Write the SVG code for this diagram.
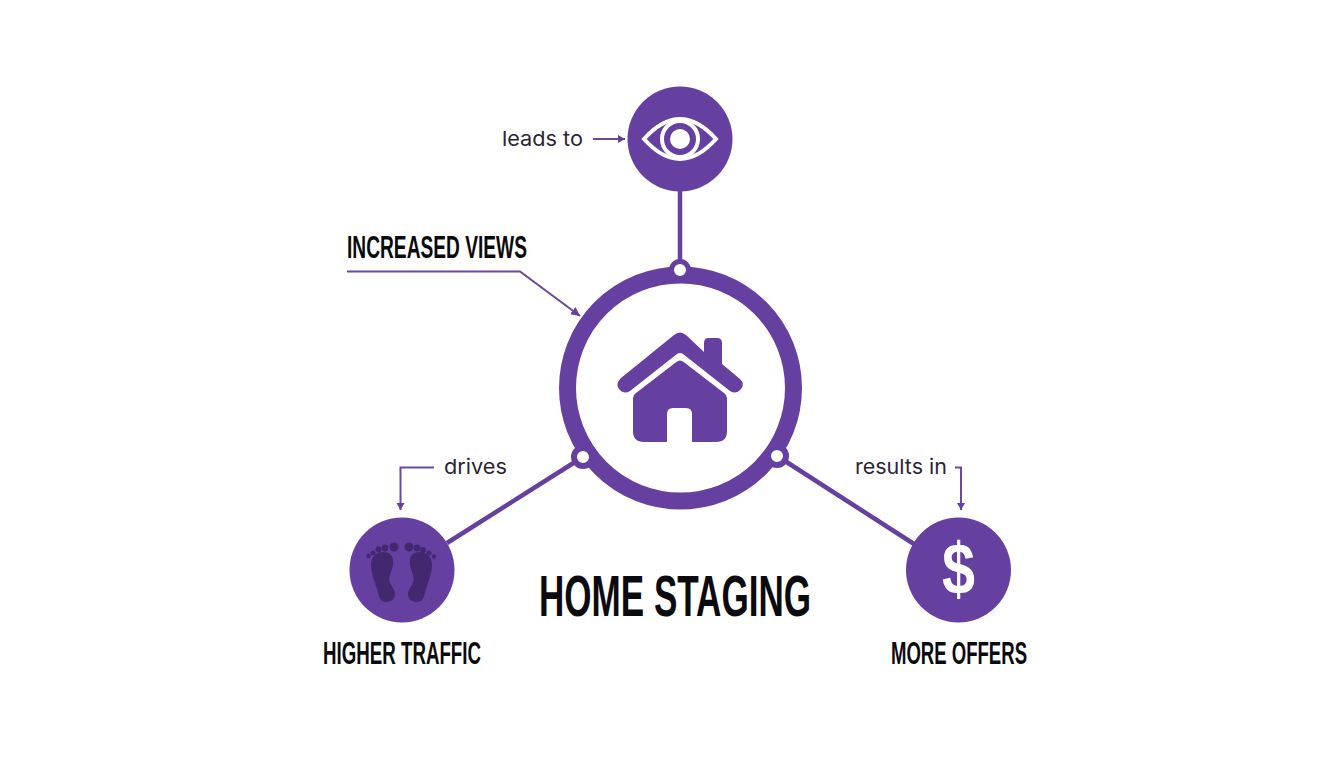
<svg xmlns="http://www.w3.org/2000/svg" width="1344" height="768" viewBox="0 0 1344 768">
<style>
.head{font-family:"Liberation Sans Narrow","Liberation Sans",Arial,sans-serif;font-weight:700;fill:#0b0b0f}
.lab{font-family:Inter,"Noto Sans",sans-serif;font-size:20.500px;fill:#2a2438}
.thick{fill:none;stroke:#6640a0;stroke-width:4.500}
.thin{fill:none;stroke:#6a4a9c;stroke-width:2}
.p{fill:#6640a0}
.d{fill:#44286f}
.w{fill:#fff}
</style>
<defs>
<marker id="ah" markerUnits="userSpaceOnUse" markerWidth="10" markerHeight="10" refX="7" refY="4" orient="auto"><path d="M0 0L7 4L0 8Z" fill="#6640a0"/></marker>
<marker id="ah2" markerUnits="userSpaceOnUse" markerWidth="12" markerHeight="12" refX="9" refY="4.500" orient="auto"><path d="M0 0L9 4.500L0 9Z" fill="#6640a0"/></marker>
</defs>
<rect width="1344" height="768" fill="#fff"/>
<g id="connectors">
<path class="thick" d="M680 190V262"/>
<path class="thick" d="M575 462L447 543"/>
<path class="thick" d="M785 461L914 544"/>
<path class="thin" d="M593 139H625" marker-end="url(#ah)"/>
<path class="thin" d="M347 271.500H520L580 316" marker-end="url(#ah2)"/>
<path class="thin" d="M434 467.500H400.500V510" marker-end="url(#ah)"/>
<path class="thin" d="M955 467.500H961V510" marker-end="url(#ah)"/>
</g>
<g id="node-home">
<circle cx="680.500" cy="388" r="113" fill="#fff" stroke="#6640a0" stroke-width="17"/>
<circle cx="680" cy="270" r="8.500" class="w" stroke="#6640a0" stroke-width="5"/>
<circle cx="583" cy="457" r="9" class="w" stroke="#6640a0" stroke-width="6"/>
<circle cx="777" cy="456" r="9" class="w" stroke="#6640a0" stroke-width="6"/>
<path class="p" d="M704 352V343Q704 338 709 338H717Q722 338 722 343V364L740 379Q745 384 741 389Q736 395 730 391L683 354Q680 352 677 354L630 391Q624 395 619 389Q615 384 621 378L674 335Q680 330 686 335Z"/>
<path class="p" d="M675 363Q680 358 685 363L724 393Q727 395 727 398V431Q727 442 716 442H692V414Q692 408 686 408H673Q667 408 667 414V442H644Q633 442 633 431V398Q633 395 636 393Z"/>
</g>
<g id="node-views">
<circle cx="680" cy="139" r="52.500" class="p"/>
<path d="M644 139Q680 99 716 139Q680 179 644 139Z" fill="none" stroke="#fff" stroke-width="4"/>
<circle cx="680" cy="139" r="18" fill="none" stroke="#fff" stroke-width="4"/>
<circle cx="680" cy="139" r="10" class="w"/>
<text x="502" y="145.500" class="lab" textLength="81" lengthAdjust="spacingAndGlyphs">leads to</text>
</g>
<g id="node-traffic">
<circle cx="402" cy="570" r="52.500" class="p"/>
<g class="d">
<path id="foot-l" d="M383 552C392 552 394 558 393 565C392 572 388 576 390 583C392 587 395 590 395 594C395 600 390 602 386 602C381 602 379 598 378 593C376 584 371 575 371 565C371 557 376 552 383 552Z"/>
<path id="foot-r" d="M420 552C411 552 409 558 410 565C411 572 415 576 413 583C411 587 408 590 408 594C408 600 413 602 417 602C422 602 424 598 425 593C427 584 432 575 432 565C432 557 427 552 420 552Z"/>
<circle cx="394" cy="547" r="4.500"/><circle cx="385" cy="548" r="3.400"/><circle cx="378.500" cy="549.500" r="3"/><circle cx="373" cy="553" r="2.500"/><circle cx="368.500" cy="556" r="2.200"/>
<circle cx="409" cy="547" r="4.500"/><circle cx="417" cy="548" r="3.400"/><circle cx="423" cy="550" r="3"/><circle cx="429" cy="553" r="2.500"/><circle cx="434" cy="556.500" r="2.200"/>
</g>
<text x="444" y="474" class="lab" textLength="63" lengthAdjust="spacingAndGlyphs">drives</text>
<text x="323" y="664" class="head" font-size="31" textLength="158" lengthAdjust="spacingAndGlyphs">HIGHER TRAFFIC</text>
</g>
<g id="node-offers">
<circle cx="958.500" cy="570" r="52.500" class="p"/>
<text x="942" y="593.500" font-family="Liberation Sans,sans-serif" font-weight="700" font-size="73" fill="#fff" textLength="33" lengthAdjust="spacingAndGlyphs">$</text>
<text x="855" y="474" class="lab" textLength="92" lengthAdjust="spacingAndGlyphs">results in</text>
<text x="891" y="664" class="head" font-size="31" textLength="136" lengthAdjust="spacingAndGlyphs">MORE OFFERS</text>
</g>
<g id="titles">
<text x="347" y="258" class="head" font-size="31" textLength="180" lengthAdjust="spacingAndGlyphs">INCREASED VIEWS</text>
<text transform="translate(539 616) scale(1 1.115)" class="head" font-size="52" textLength="272" lengthAdjust="spacingAndGlyphs">HOME STAGING</text>
</g>
</svg>
